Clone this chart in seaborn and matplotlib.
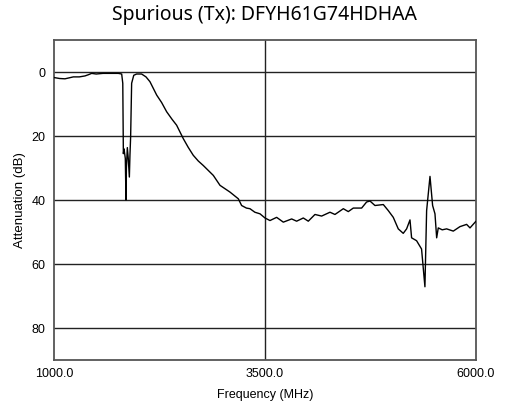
import matplotlib
matplotlib.use("Agg")
import matplotlib.pyplot as plt
import seaborn as sns
import pandas as pd

# Measured spurious attenuation of the Tx filter
freq_mhz = [1000, 1065, 1130, 1180, 1229, 1300, 1367, 1410, 1446, 1500, 1581, 1680, 1762, 1802,
            1815, 1822, 1830, 1845, 1853, 1858, 1869, 1880, 1893, 1900, 1908, 1920, 1945, 1979,
            2038, 2090, 2137, 2217, 2275, 2335, 2400, 2453, 2532, 2590, 2650, 2710, 2769, 2888,
            2967, 3085, 3184, 3223, 3280, 3322, 3380, 3441, 3500, 3559, 3638, 3717, 3816, 3875,
            3954, 4013, 4092, 4171, 4270, 4329, 4428, 4487, 4546, 4645, 4704, 4744, 4803, 4902,
            4961, 5020, 5079, 5138, 5178, 5218, 5237, 5296, 5355, 5395, 5415, 5455, 5486, 5514,
            5534, 5553, 5600, 5652, 5731, 5810, 5889, 5929, 6000]
atten_db = [1.7, 2.0, 2.1, 1.8, 1.5, 1.5, 1.2, 0.8, 0.4, 0.6, 0.4, 0.4, 0.4, 0.6,
            3.5, 25.5, 24.0, 27.0, 40.0, 30.0, 23.6, 27.0, 32.8, 26.0, 20.3, 3.5, 1.0, 0.6,
            0.6, 1.5, 3.0, 7.2, 9.5, 12.4, 14.8, 16.6, 20.8, 23.5, 26.0, 27.8, 29.2, 32.3,
            35.4, 37.5, 39.6, 41.7, 42.5, 42.7, 43.8, 44.3, 45.6, 46.4, 45.4, 46.9, 45.9, 46.6,
            45.6, 46.6, 44.5, 45.0, 43.8, 44.5, 42.7, 43.6, 42.5, 42.5, 40.6, 40.3, 41.7, 41.4,
            43.3, 45.4, 49.0, 50.4, 49.0, 46.2, 51.8, 52.7, 55.3, 67.1, 43.3, 32.6, 41.7, 44.3,
            51.8, 48.7, 49.3, 49.0, 49.7, 48.3, 47.6, 48.7, 46.6]

x_ticks = [1000.0, 3500.0, 6000.0]
y_ticks = [0, 20, 40, 60, 80]

df = pd.DataFrame({"Frequency (MHz)": freq_mhz, "Attenuation (dB)": atten_db})

sns.set_style("white")
plt.rcParams["font.family"] = ["Liberation Sans", "DejaVu Sans"]
plt.rcParams["text.color"] = "black"

fig = plt.figure(figsize=(5.06, 4.05), dpi=100)
ax = fig.add_axes([0.1067, 0.111, 0.834, 0.79])

# Grid: horizontal at each attenuation tick, a single vertical line at mid band
for y in y_ticks:
    ax.axhline(y, color="#222222", lw=1.0, zorder=1)
ax.axvline(x_ticks[1], color="#222222", lw=1.0, zorder=1)

sns.lineplot(data=df, x="Frequency (MHz)", y="Attenuation (dB)", ax=ax,
             color="black", lw=1.0, zorder=3, sort=False)

ax.set_xlim(1000, 6000)
ax.set_ylim(90, -10)
ax.set_xticks(x_ticks)
ax.set_xticklabels([f"{v:.1f}" for v in x_ticks])
ax.set_yticks(y_ticks)
ax.tick_params(axis="both", length=0, labelsize=9, pad=6, colors="black")
ax.set_xlabel("Frequency (MHz)", fontsize=9, labelpad=6, color="black")
ax.set_ylabel("Attenuation (dB)", fontsize=9.5, labelpad=4, color="black")

for s in ax.spines.values():
    s.set_color("#555555")
    s.set_linewidth(1.3)

fig.text(0.523, 0.963, "Spurious (Tx): DFYH61G74HDHAA", ha="center", va="center",
         fontsize=14, family=["Noto Sans", "DejaVu Sans"], color="black")

fig.savefig("out.png", dpi=100)
